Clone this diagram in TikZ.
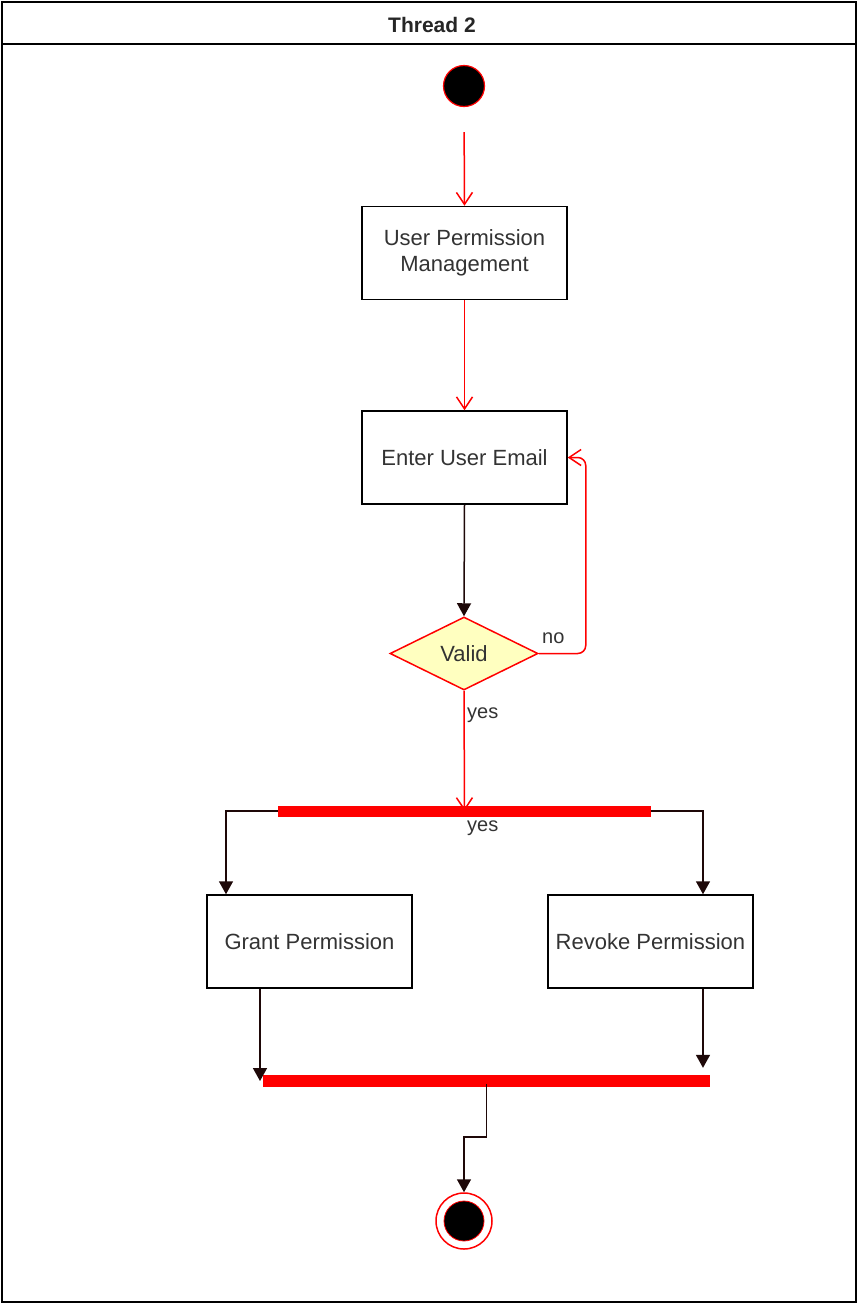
\documentclass[tikz,border=0pt]{standalone}
\usepackage{fontspec}
\setmainfont{Liberation Sans}
\usetikzlibrary{arrows.meta,shapes.geometric,calc}
\definecolor{txt}{RGB}{51,51,51}
\definecolor{dark}{RGB}{30,8,8}
\definecolor{dyellow}{RGB}{255,255,192}
\tikzset{
  box/.style={draw=black,line width=1.5pt,fill=white,minimum width=205pt,minimum height=93pt,inner sep=0pt,align=center,text=txt,font=\fontsize{22}{26}\selectfont},
  redline/.style={draw=red,line width=1.5pt,-{Straight Barb[length=12pt,width=16pt,line width=1.5pt]}},
  darkline/.style={draw=dark,line width=1.5pt,-{Triangle[length=13pt,width=14pt]}},
  lbl/.style={text=txt,font=\fontsize{20}{24}\selectfont,inner sep=0pt},
  bar/.style={fill=red,draw=none,inner sep=0pt,minimum height=12pt}
}
\begin{document}
\begin{tikzpicture}[x=1pt,y=-1pt]
\useasboundingbox (0,0) rectangle (858,1304);
\fill[white] (0,0) rectangle (858,1304);
% frame and title
\draw[line width=1.5pt] (2,2) rectangle (856,1302);
\draw[line width=1.5pt] (2,44) -- (856,44);
\node[font=\bfseries\fontsize{21}{24}\selectfont,text=black!85] (title) at (432,25) {Thread 2};
% nodes
\node[circle,fill=black,draw=red,line width=1.2pt,minimum size=41pt,inner sep=0pt] (start) at (464,86) {};
\node[box] (upm) at (464.5,253) {User Permission\\Management};
\node[box] (email) at (464.5,457.5) {Enter User Email};
\node[diamond,draw=red,line width=1.5pt,fill=dyellow,minimum width=148pt,minimum height=73pt,inner sep=0pt,text=txt,font=\fontsize{22}{26}\selectfont] (valid) at (464,653.5) {Valid};
\node[bar,minimum width=373pt,minimum height=11pt] (fork) at (464.5,811) {};
\node[box] (grant) at (309.5,941.5) {Grant Permission};
\node[box] (revoke) at (650.5,941.5) {Revoke Permission};
\node[bar,minimum width=447pt] (join) at (486.5,1081) {};
\node[circle,fill=white,draw=red,line width=1.5pt,minimum size=56pt,inner sep=0pt] (end) at (464,1221) {};
\node[circle,fill=black,draw=red,line width=0.8pt,minimum size=40pt,inner sep=0pt] (endin) at (464,1221) {};
% labels
\node[lbl,anchor=west] (no) at (542,638) {no};
\node[lbl,anchor=west] (yes1) at (467,715) {yes};
\node[lbl,anchor=west] (yes2) at (467,828) {yes};
% helper coordinates
\coordinate (gs) at ($(grant.south)+(-49.5,0)$);
\coordinate (rs) at ($(revoke.south)+(52.5,0)$);
\coordinate (gn) at ($(grant.north)+(-83.5,0)$);
\coordinate (rn) at ($(revoke.north)+(52.5,0)$);
\coordinate (loop) at ($(email.east)+(18,0)$);
% connectors
\draw[redline,shorten <=25pt] (start.south) -- (upm.north);
\draw[redline] (upm.south) -- (email.north);
\draw[darkline] (email.south) -- (valid.north);
\draw[redline,rounded corners=8pt] (valid.east) -| (loop) -- (email.east);
\draw[redline] (valid.south) -- (fork.center);
\draw[darkline] (fork.west) -| (gn);
\draw[darkline] (fork.east) -| (rn);
\draw[darkline] (gs) -- (gs |- join.center);
\draw[darkline,shorten >=7pt] (rs) -- (rs |- join.north);
\draw[darkline] ([yshift=3pt]join.south) -- ++(0,53) -| (end.north);
\end{tikzpicture}
\end{document}
